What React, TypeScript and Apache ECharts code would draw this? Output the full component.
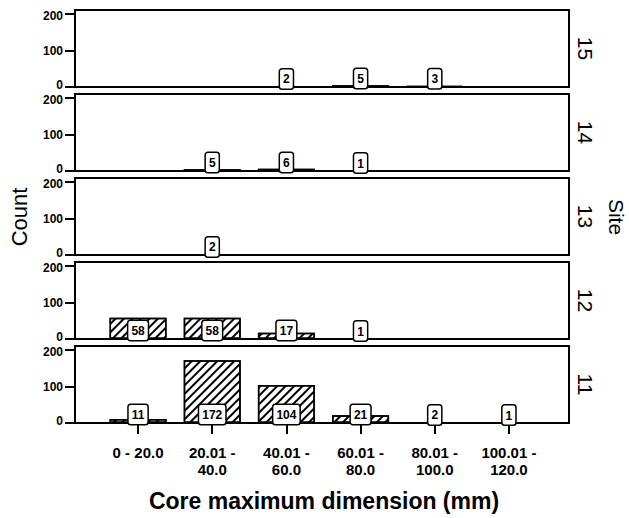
import React, { useEffect, useRef } from 'react';
import * as echarts from 'echarts';

const categories = ['0 - 20.0', '20.01 -\n40.0', '40.01 -\n60.0', '60.01 -\n80.0', '80.01 -\n100.0', '100.01 -\n120.0'];
const sites = ['15', '14', '13', '12', '11'];
const site15 = [0, 0, 2, 5, 3, 0];
const site14 = [0, 5, 6, 1, 0, 0];
const site13 = [0, 2, 0, 0, 0, 0];
const site12 = [58, 58, 17, 1, 0, 0];
const site11 = [11, 172, 104, 21, 2, 1];
const siteValues = [site15, site14, site13, site12, site11];
const yTicks = [0, 100, 200];
const xTitle = 'Core maximum dimension (mm)';
const yTitle = 'Count';
const panelTitle = 'Site';

const FONT = '"Liberation Sans", Arial, Helvetica, sans-serif';

export default function App() {
  const ref = useRef<HTMLDivElement>(null);
  useEffect(() => {
    if (!ref.current) return;
    const chart = echarts.init(ref.current, undefined, { renderer: 'svg' });
    const tops = [10, 94, 178, 262, 346];
    const h = 77;
    const last = sites.length - 1;
    const grids = tops.map((t) => ({
      left: 75,
      right: 60,
      top: t,
      height: h,
      show: true,
      borderColor: '#000',
      borderWidth: 2,
      backgroundColor: 'transparent',
    }));
    const xAxes = sites.map((_, i) => ({
      type: 'value',
      gridIndex: i,
      min: -0.85,
      max: 5.81,
      splitLine: { show: false },
      axisLine: { show: true, onZero: false, lineStyle: { color: '#000', width: 2 } },
      axisTick: {
        show: i === last,
        customValues: categories.map((_, k) => k),
        length: 11,
        lineStyle: { color: '#000', width: 2 },
      },
      axisLabel: {
        show: i === last,
        customValues: categories.map((_, k) => k),
        formatter: (v: number) => categories[Math.round(v)] ?? '',
        color: '#000',
        fontFamily: FONT,
        fontWeight: 'bold',
        fontSize: 15,
        lineHeight: 17,
        margin: 21,
      },
    }));
    const yLabelStyle = { color: '#000', fontFamily: FONT, fontWeight: 'bold', fontSize: 12 };
    const yAxes = sites.map((_, i) => ({
      type: 'value',
      gridIndex: i,
      position: 'left',
      min: 0,
      max: 211,
      splitLine: { show: false },
      axisLine: { show: true, onZero: false, lineStyle: { color: '#000', width: 2 } },
      axisTick: {
        show: true,
        customValues: yTicks,
        length: 10,
        lineStyle: { color: '#000', width: 2 },
      },
      axisLabel: {
        customValues: yTicks,
        formatter: (v: number) =>
          v === yTicks[0] ? `{lo|${v}}` : v === yTicks[yTicks.length - 1] ? `{hi|${v}}` : `{mid|${v}}`,
        rich: {
          lo: { ...yLabelStyle, padding: [0, 0, 4, 0] },
          hi: { ...yLabelStyle, padding: [4, 0, 0, 0] },
          mid: { ...yLabelStyle },
        },
        ...yLabelStyle,
        margin: 12,
      },
    }));
    const series = siteValues.map((vals, i) => ({
      type: 'bar',
      name: sites[i],
      xAxisIndex: i,
      yAxisIndex: i,
      barWidth: 57,
      data: vals
        .map((v, k) => (v > 0 ? [k, v] : null))
        .filter((d) => d !== null),
      itemStyle: {
        color: '#fff',
        borderColor: '#000',
        borderWidth: 1.5,
        decal: {
          symbol: 'rect',
          symbolSize: 1,
          color: '#000',
          backgroundColor: '#fff',
          dashArrayX: [1, 0],
          dashArrayY: [2, 4],
          rotation: -Math.PI / 4,
        },
      },
      label: {
        show: true,
        position: 'insideBottom',
        distance: -1,
        formatter: (p: any) => String(p.value[1]),
        backgroundColor: '#fff',
        borderColor: '#000',
        borderWidth: 1.5,
        borderRadius: 2,
        padding: [4, 3, 3, 3],
        color: '#000',
        fontFamily: FONT,
        fontWeight: 'bold',
        fontSize: 12,
      },
    }));
    const graphics: any[] = [
      {
        type: 'text',
        x: 19,
        y: 217,
        rotation: Math.PI / 2,
        style: { text: yTitle, fill: '#000', font: `22px ${FONT}`, align: 'center', verticalAlign: 'middle', textAlign: 'center', textVerticalAlign: 'middle' },
      },
      {
        type: 'text',
        x: 616,
        y: 217,
        rotation: -Math.PI / 2,
        style: { text: panelTitle, fill: '#000', font: `21px ${FONT}`, align: 'center', verticalAlign: 'middle', textAlign: 'center', textVerticalAlign: 'middle' },
      },
      {
        type: 'text',
        x: 324,
        y: 501,
        style: { text: xTitle, fill: '#000', font: `bold 23px ${FONT}`, align: 'center', verticalAlign: 'middle', textAlign: 'center', textVerticalAlign: 'middle' },
      },
      ...sites.map((s, i) => ({
        type: 'text',
        x: 585,
        y: tops[i] + h / 2,
        rotation: -Math.PI / 2,
        style: { text: s, fill: '#000', font: `21px ${FONT}`, align: 'center', verticalAlign: 'middle', textAlign: 'center', textVerticalAlign: 'middle' },
      })),
    ];
    chart.setOption({
      animation: false,
      backgroundColor: '#fff',
      grid: grids,
      xAxis: xAxes,
      yAxis: yAxes,
      series,
      graphic: graphics,
    } as any);
    return () => chart.dispose();
  }, []);
  return (
    <div
      ref={ref}
      style={{ position: 'fixed', left: 0, top: 0, width: 629, height: 518, background: '#fff' }}
    />
  );
}
